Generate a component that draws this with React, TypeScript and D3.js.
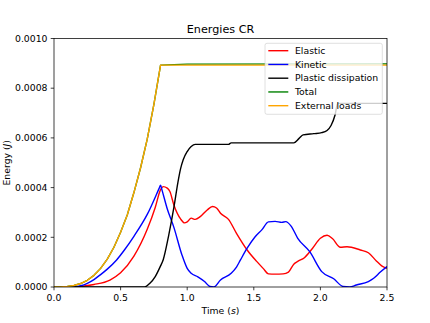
import React from "react";
import * as d3 from "d3";

// readings (time in s, energy in 1e-4 J)
const elasticT = [0, 0.15, 0.2, 0.3, 0.42, 0.5, 0.6, 0.7, 0.76, 0.8, 0.82, 0.85, 0.87, 0.9, 0.95, 0.98, 1.0, 1.03, 1.06, 1.1, 1.15, 1.19, 1.22, 1.25, 1.31, 1.37, 1.45, 1.52, 1.57, 1.61, 1.66, 1.72, 1.76, 1.8, 1.83, 1.88, 1.94, 2.0, 2.05, 2.09, 2.15, 2.2, 2.3, 2.36, 2.42, 2.46, 2.5];
const elasticV = [0, 0, 0.02, 0.1, 0.28, 0.57, 1.24, 2.32, 3.2, 3.92, 4.04, 3.98, 3.84, 3.3, 2.74, 2.58, 2.62, 2.77, 2.72, 2.84, 3.1, 3.24, 3.18, 2.97, 2.72, 2.16, 1.49, 1.04, 0.75, 0.53, 0.52, 0.53, 0.6, 0.92, 1.03, 1.18, 1.55, 1.96, 2.08, 1.95, 1.6, 1.62, 1.49, 1.38, 1.05, 0.85, 0.75];

const kineticT = [0, 0.15, 0.2, 0.25, 0.3, 0.35, 0.4, 0.47, 0.53, 0.6, 0.7, 0.79, 0.8, 0.81, 0.85, 0.9, 0.96, 1.0, 1.03, 1.08, 1.13, 1.17, 1.2, 1.25, 1.33, 1.37, 1.4, 1.45, 1.51, 1.56, 1.61, 1.66, 1.71, 1.74, 1.78, 1.83, 1.92, 2.01, 2.1, 2.17, 2.22, 2.27, 2.36, 2.4, 2.45, 2.5];
const kineticV = [0, 0, 0.05, 0.15, 0.3, 0.5, 0.72, 1.09, 1.5, 2.04, 2.92, 3.98, 4.1, 3.92, 3.15, 2.4, 1.3, 0.75, 0.55, 0.41, 0.22, 0.02, 0, 0.28, 0.55, 0.8, 1.09, 1.56, 2.02, 2.3, 2.62, 2.64, 2.6, 2.63, 2.45, 1.96, 1.42, 0.62, 0.33, 0.02, 0, 0.08, 0.22, 0.35, 0.6, 0.82];

const plasticT = [0, 0.68, 0.72, 0.76, 0.8, 0.82, 0.86, 0.9, 0.93, 0.95, 0.97, 1.0, 1.03, 1.06, 1.31, 1.33, 1.8, 1.84, 1.87, 1.95, 2.01, 2.05, 2.08, 2.11, 2.13, 2.5];
const plasticV = [0, 0, 0.15, 0.42, 0.85, 1.1, 2.05, 3.2, 4.2, 4.75, 5.12, 5.45, 5.65, 5.74, 5.74, 5.8, 5.8, 5.98, 6.12, 6.17, 6.21, 6.3, 6.5, 6.92, 7.39, 7.39];

const totalT = [0, 0.05, 0.1, 0.15, 0.2, 0.25, 0.3, 0.35, 0.4, 0.45, 0.5, 0.55, 0.6, 0.65, 0.7, 0.75, 0.8, 0.9, 1.0, 2.5];
const totalV = [0, 0, 0.02, 0.06, 0.14, 0.27, 0.47, 0.75, 1.12, 1.6, 2.2, 2.9, 3.8, 4.8, 5.95, 7.35, 8.93, 8.95, 8.97, 8.98];

const externalT = [0, 0.05, 0.1, 0.15, 0.2, 0.25, 0.3, 0.35, 0.4, 0.45, 0.5, 0.55, 0.6, 0.65, 0.7, 0.75, 0.8, 2.5];
const externalV = [0, 0, 0.02, 0.06, 0.14, 0.27, 0.47, 0.75, 1.12, 1.6, 2.2, 2.9, 3.8, 4.8, 5.95, 7.35, 8.93, 8.93];

const xTicks = [0, 0.5, 1.0, 1.5, 2.0, 2.5];
const yTicks = [0, 0.0002, 0.0004, 0.0006, 0.0008, 0.001];

const series = [
  { label: "Elastic", color: "red", t: elasticT, v: elasticV, smooth: true },
  { label: "Kinetic", color: "blue", t: kineticT, v: kineticV, smooth: true },
  { label: "Plastic dissipation", color: "black", t: plasticT, v: plasticV, smooth: true },
  { label: "Total", color: "green", t: totalT, v: totalV, smooth: false },
  { label: "External loads", color: "orange", t: externalT, v: externalV, smooth: false },
];

const W = 430;
const H = 323;
const margin = { left: 54, right: 43, top: 38.5, bottom: 36 };
const font = "DejaVu Sans";
const fs = 9.3;

export default function App() {
  const x = d3.scaleLinear().domain([0, 2.5]).range([margin.left, W - margin.right]);
  const y = d3.scaleLinear().domain([0, 0.001]).range([H - margin.bottom, margin.top]);
  const [x0, x1] = x.range();
  const [y0, y1] = y.range();

  const lineFor = (s) => {
    const pts = s.t.map((t, i) => [t, s.v[i] * 1e-4]);
    return d3.line()
      .x(d => x(d[0]))
      .y(d => y(d[1]))
      .curve(s.smooth ? d3.curveMonotoneX : d3.curveLinear)(pts);
  };

  const legX = 265, legY = 43.3, legW = 117.3, legH = 71, rowH = 13.75;

  return (
    <svg width={W} height={H} style={{ position: "absolute", left: 0, top: 0, background: "white" }} fontFamily={font}>
      <defs>
        <clipPath id="plot">
          <rect x={x0} y={y1} width={x1 - x0} height={y0 - y1} />
        </clipPath>
      </defs>

      <g clipPath="url(#plot)">
        {series.map((s, i) => (
          <path key={i} d={lineFor(s)} fill="none" stroke={s.color} strokeWidth={1.4} strokeLinejoin="round" />
        ))}
      </g>

      {/* spines */}
      <rect x={x0} y={y1} width={x1 - x0} height={y0 - y1} fill="none" stroke="black" strokeWidth={0.75} />

      {xTicks.map((t, i) => (
        <g key={i}>
          <line x1={x(t)} x2={x(t)} y1={y0} y2={y0 + 3.3} stroke="black" strokeWidth={0.75} />
          <text x={x(t)} y={y0 + 6.5} dy="0.76em" textAnchor="middle" fontSize={fs}>{t.toFixed(1)}</text>
        </g>
      ))}
      {yTicks.map((t, i) => (
        <g key={i}>
          <line x1={x0 - 3.3} x2={x0} y1={y(t)} y2={y(t)} stroke="black" strokeWidth={0.75} />
          <text x={x0 - 6.5} y={y(t)} dy="0.35em" textAnchor="end" fontSize={fs}>{t.toFixed(4)}</text>
        </g>
      ))}

      <text x={(x0 + x1) / 2} y={314} textAnchor="middle" fontSize={fs}>
        Time (<tspan fontStyle="italic">s</tspan>)
      </text>
      <text transform={`translate(9.5, ${(y0 + y1) / 2}) rotate(-90)`} textAnchor="middle" fontSize={fs}>
        Energy (<tspan fontStyle="italic">J</tspan>)
      </text>
      <text x={(x0 + x1) / 2} y={33} textAnchor="middle" fontSize={11.2}>Energies CR</text>

      {/* legend */}
      <rect x={legX} y={legY} width={legW} height={legH} rx={2} fill="white" fillOpacity={0.8} stroke="#cccccc" strokeOpacity={0.8} strokeWidth={0.75} />
      {series.map((s, i) => {
        const cy = legY + 7.4 + i * rowH;
        return (
          <g key={i}>
            <line x1={legX + 3.3} x2={legX + 23.3} y1={cy} y2={cy} stroke={s.color} strokeWidth={1.4} />
            <text x={legX + 30} y={cy} dy="0.35em" fontSize={fs}>{s.label}</text>
          </g>
        );
      })}
    </svg>
  );
}
